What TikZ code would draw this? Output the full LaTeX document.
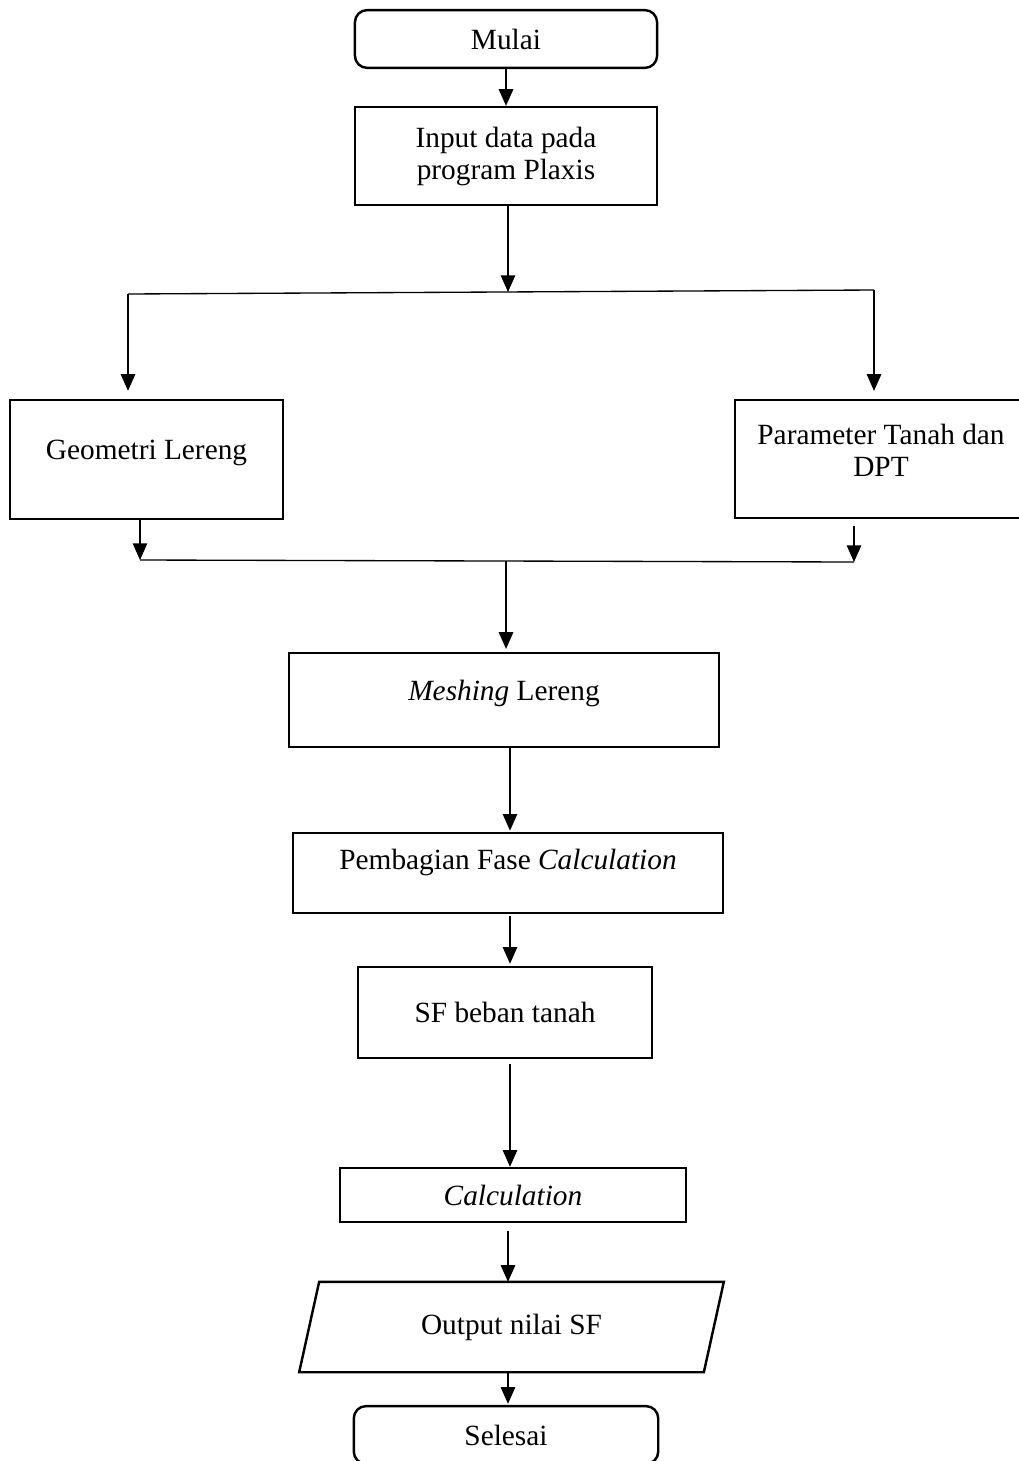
\documentclass[tikz,border=0pt]{standalone}
\usepackage{fontspec}
\setmainfont{Liberation Serif}
\usetikzlibrary{arrows.meta,calc}

\tikzset{
  kotak/.style={draw, line width=1.1pt, inner sep=0pt, align=center,
    font=\fontsize{13.2}{14.4}\selectfont},
  terminal/.style={kotak, rounded corners=5.5pt},
  garis/.style={line width=0.6pt},
}

\begin{document}
\begin{tikzpicture}[x=0.45pt, y=-0.45pt, >={Triangle[length=7.5pt,width=6.5pt]}]
\useasboundingbox (0,0) rectangle (1019,1461);
% kotak-kotak
\node[terminal, minimum width=136pt, minimum height=26pt] (mulai) at (506,39) {Mulai};
\node[kotak, minimum width=136pt, minimum height=44pt] (input) at (506,156) {Input data pada\\program Plaxis};
\node[kotak, minimum width=123pt, minimum height=53.5pt, text depth=9pt] (geo) at (146.5,459.5) {Geometri Lereng};
\node[kotak, minimum width=131.5pt, minimum height=53pt, text depth=8pt] (param) at (881,459) {Parameter Tanah dan\\DPT};
\node[kotak, minimum width=193.5pt, minimum height=42.3pt, text depth=9pt] (mesh) at (504,700) {\textit{Meshing} Lereng};
\node[kotak, minimum width=193.5pt, minimum height=36pt, text depth=12pt] (fase) at (508,873) {Pembagian Fase \textit{Calculation}};
\node[kotak, minimum width=132.3pt, minimum height=41pt] (sf) at (505,1012.5) {SF beban tanah};
\node[kotak, minimum width=155.7pt, minimum height=24.3pt] (calc) at (513,1195) {\textit{Calculation}};
\node[kotak, draw=none, minimum width=181pt, minimum height=39.6pt] (output) at (511.5,1327) {Output nilai SF};
\draw[line width=1.1pt] ($(output.north west)+(10,0)$) -- ($(output.north east)+(10,0)$)
  -- ($(output.south east)+(-10,0)$) -- ($(output.south west)+(-10,0)$) -- cycle;
\node[terminal, minimum width=137pt, minimum height=26pt] (selesai) at (506,1435) {Selesai};
% percabangan
\coordinate (pisah) at (508,292);
\coordinate (pisahL) at (128,294);
\coordinate (pisahR) at (874,290);
\coordinate (gabungL) at (140,560);
\coordinate (gabungR) at (854,562);
\coordinate (gabung) at (506,561);
% panah
\draw[garis,->] (mulai) -- (input);
\draw[garis,->] (input.south -| pisah) -- (pisah);
\draw[garis] (pisahL) -- (pisahR);
\draw[garis,->,shorten >=3.6pt] (pisahL) -- (pisahL |- geo.north);
\draw[garis,->,shorten >=3.6pt] (pisahR) -- (pisahR |- param.north);
\draw[garis,->] (geo.south -| gabungL) -- (gabungL);
\draw[garis,->,shorten <=3pt] (param.south -| gabungR) -- (gabungR);
\draw[garis] (gabungL) -- (gabungR);
\draw[garis,->,shorten >=1.3pt] (gabung) -- (gabung |- mesh.north);
\draw[garis,->,shorten >=0.5pt] (mesh.south -| 510,0) -- (fase.north -| 510,0);
\draw[garis,->,shorten >=0.9pt,shorten <=0.9pt] (fase.south -| 510,0) -- (sf.north -| 510,0);
\draw[garis,->,shorten <=2.2pt] (sf.south -| 510,0) -- (calc.north -| 510,0);
\draw[garis,->,shorten <=3.6pt] (calc.south -| 508,0) -- (output.north -| 508,0);
\draw[garis,->,shorten >=0.5pt] (output.south -| 508,0) -- (selesai.north -| 508,0);
\end{tikzpicture}
\end{document}
